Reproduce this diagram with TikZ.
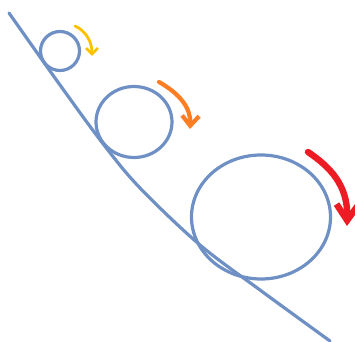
\documentclass[tikz,border=0pt]{standalone}
\usepackage{tikz}
\usetikzlibrary{arrows.meta}

\definecolor{slopeblue}{RGB}{110,144,196}
\definecolor{spinyellow}{RGB}{255,192,0}
\definecolor{spinorange}{RGB}{255,125,35}
\definecolor{spinred}{RGB}{237,28,36}

\begin{document}
\begin{tikzpicture}[
    x=0.5pt, y=-0.5pt,
    slope/.style={draw=slopeblue, line width=1.6pt, line cap=round},
    ball/.style={draw=slopeblue, line width=1.6pt},
    spin/.style={line cap=round, line join=round}
]
\useasboundingbox (0,0) rectangle (355,342);

% Slope
\draw [slope] plot [smooth, tension=0.55] coordinates {(9,13) (60,85) (104,145) (140,188) (200,245) (260,290) (330,341)};

% Balls
\draw [ball] (60,51) circle [x radius=19.5, y radius=19.5];
\draw [ball] (134,122) circle [x radius=38, y radius=35.5];
\draw [ball] (261,217) circle [x radius=69.5, y radius=62];

% Spin arrows
\draw [spin, spinyellow, line width=1.4pt, -{Straight Barb[length=3pt, width=6pt]}]
    (75,26) .. controls (86,31) and (92,42) .. (92,56);
\draw [spin, spinorange, line width=2.1pt, -{Straight Barb[length=5pt, width=8.5pt]}]
    (159,82) .. controls (180,94) and (191,108) .. (190,129);
\draw [spin, spinred, line width=3.2pt, -{Straight Barb[length=8pt, width=11pt]}]
    (308,152) .. controls (330,167) and (348,185) .. (347,226);

\end{tikzpicture}
\end{document}
